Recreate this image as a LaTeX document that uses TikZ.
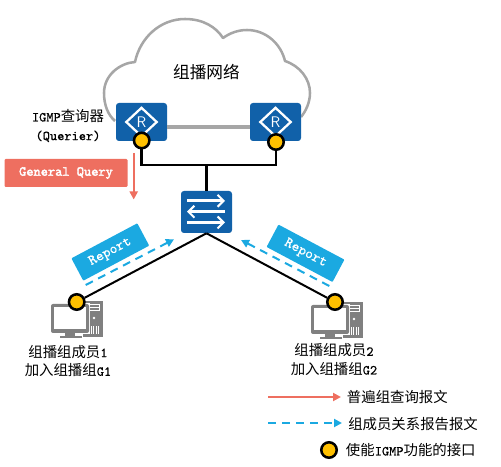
\documentclass[tikz,border=0pt]{standalone}
\usepackage{fontspec}
\newfontfamily\cjkf{Noto Sans CJK SC}
\newfontfamily\latf[FakeBold=0.6]{Latin Modern Mono}
\newfontfamily\latb[FakeBold=2.5]{Latin Modern Mono}
\newcommand\zh[1]{{\cjkf\fontsize{10.8}{14}\selectfont #1}}
\usetikzlibrary{arrows.meta,shapes.geometric}
\definecolor{netblue}{HTML}{1161A9}
\definecolor{skyb}{HTML}{1BA9E1}
\definecolor{redq}{HTML}{EE6F60}
\definecolor{yellowp}{HTML}{FFC000}
\definecolor{greyc}{HTML}{A6A6A6}
\definecolor{pcgrey}{HTML}{808080}
\tikzset{
  txt/.style={inner sep=0pt,font=\latf\fontsize{10.3}{14}\selectfont,align=center},
  devbox/.style={fill=netblue,rounded corners=2.2pt,minimum width=38.25pt,inner sep=0pt},
  routerbox/.style={devbox,minimum height=28.5pt},
  switchbox/.style={devbox,minimum height=31.5pt},
  portdot/.style={circle,draw=black,fill=yellowp,line width=1.9pt,minimum size=11.6pt,inner sep=0pt},
  wire/.style={draw=black,line width=1.9pt},
  thinwire/.style={draw=black,line width=1.5pt},
  reportbox/.style={fill=skyb,minimum width=56pt,minimum height=19pt,inner sep=0pt,rounded corners=.6pt,text=white,font=\latf\fontsize{11}{12}\selectfont},
  redarrow/.style={draw=redq,line width=1.5pt,-{Triangle[length=6pt,width=6pt]}},
  bluearrow/.style={draw=skyb,line width=1.5pt,dash pattern=on 6pt off 4.5pt,-{Triangle[length=6pt,width=6pt]}},
  swarrow/.style={draw=white,line width=2pt,-{Straight Barb[length=4.5pt,width=9pt,line width=1.5pt]}},
}
\tikzset{
  pcicon/.pic={
    % tower
    \fill[pcgrey] (32,-1) rectangle (52,35);
    \fill[white] (35,2) rectangle (49,9);
    \fill[pcgrey] (36,3) rectangle (48,8);
    \fill[white] (35,5) rectangle (49,5.8);
    \fill[white] (43,16) circle (1.3);
    \foreach \xx in {37,39.5,42,44.5,47}{\fill[white] (\xx,24) rectangle (\xx+1,32);}
    % monitor
    \fill[white] (-1,1) rectangle (39,32);
    \fill[pcgrey,rounded corners=1.5pt] (0,2) rectangle (38,31);
    \fill[white] (3,5) rectangle (35,27);
    \fill[pcgrey] (14,31) rectangle (24,34);
    \fill[pcgrey] (9,34) rectangle (31,36.5);
  }
}
\begin{document}
\begin{tikzpicture}[x=.75pt,y=-.75pt]
\useasboundingbox (0,0) rectangle (501,467);
% cloud
\draw[greyc,line width=1.9pt,line join=round] (115,121) .. controls (108,115) and (104,105) .. (104,93)
  .. controls (104,75) and (120,63) .. (135,62)
  .. controls (140,38) and (160,19) .. (185,19)
  .. controls (203,19) and (216,27) .. (223,38)
  .. controls (230,33) and (238,30) .. (247,30)
  .. controls (266,30) and (281,44) .. (285,61)
  .. controls (300,66) and (310,79) .. (310,93)
  .. controls (310,102) and (306,111) .. (301,117);
\node[txt,font=\fontsize{12.5}{14}\selectfont] (title) at (206.5,72) {\cjkf 组播网络};
% routers
\node[routerbox] (rl) at (141.5,122) {};
\node[routerbox] (rr) at (275.5,122) {};
\draw[greyc,line width=2.4pt] ([yshift=-3.75pt]rl.east) -- ([yshift=-3.75pt]rr.west);
\foreach \r in {rl,rr}{
  \node[diamond,draw=white,line width=1.7pt,minimum width=23.5pt,minimum height=22pt,inner sep=0pt,aspect=1.05,
        text=white,font=\sffamily\fontsize{11.5}{12}\selectfont] (\r icon) at (\r) {R};
}
% switch
\node[switchbox] (sw) at (206.5,212) {};
\draw[swarrow] (187,200.8) -- (225,200.8);
\draw[swarrow] (225,211.7) -- (187,211.7);
\draw[swarrow] (187,222.5) -- (225,222.5);
% PCs
\pic (pca) at (51,302) {pcicon};
\pic (pcb) at (311,303) {pcicon};
% ports
\node[portdot] (pl) at (141.7,140.5) {};
\node[portdot] (pr) at (276,142) {};
\node[portdot] (pa) at (76.7,302) {};
\node[portdot] (pb) at (335,302) {};
\coordinate (bus) at (206.5,165);
\draw[wire,line join=miter] (pl) -- (pl |- bus) -- (pr |- bus) -- (pr);
\draw[wire] (bus) -- (sw.north);
\draw[thinwire] (sw.south) -- (pa);
\draw[thinwire] (sw.south) -- (pb);
% labels
\node[txt] (querier) at (68,125.7) {IGMP\zh{查询器}\\(Querier)};
\node[fill=redq,minimum width=92.25pt,minimum height=21pt,inner sep=0pt,rounded corners=.8pt,text=white,font=\latb\fontsize{10.3}{12}\selectfont] (gq) at (66,173) {General Query};
\coordinate (qa) at (133.7,153);
\coordinate (qb) at (133.7,199.5);
\draw[redarrow] (qa) -- (qb);
\node[reportbox,rotate=28] (rpa) at (110.3,252) {Report};
\node[reportbox,rotate=-28] (rpb) at (305.5,253.3) {Report};
\coordinate (ba) at (85.7,285);
\coordinate (bb) at (174,239.3);
\coordinate (bc) at (329.3,286);
\coordinate (bd) at (241,240);
\draw[bluearrow] (ba) -- (bb);
\draw[bluearrow] (bc) -- (bd);
\node[txt] (mema) at (68,361) {\zh{组播组成员}1\\\zh{加入组播组}G1};
\node[txt] (memb) at (334,359.7) {\zh{组播组成员}2\\\zh{加入组播组}G2};
% legend
\coordinate (la) at (268.3,397);
\coordinate (lb) at (341,397);
\coordinate (lc) at (268.3,423);
\coordinate (ld) at (342,423);
\draw[redarrow] (la) -- (lb);
\draw[bluearrow] (lc) -- (ld);
\node[portdot] (lp) at (329,450) {};
\node[txt,anchor=west] (t1) at (346.7,397) {\zh{普遍组查询报文}};
\node[txt,anchor=west] (t2) at (348,424) {\zh{组成员关系报告报文}};
\node[txt,anchor=west] (t3) at (345.7,450) {\zh{使能}IGMP\zh{功能的接口}};
\end{tikzpicture}
\end{document}
